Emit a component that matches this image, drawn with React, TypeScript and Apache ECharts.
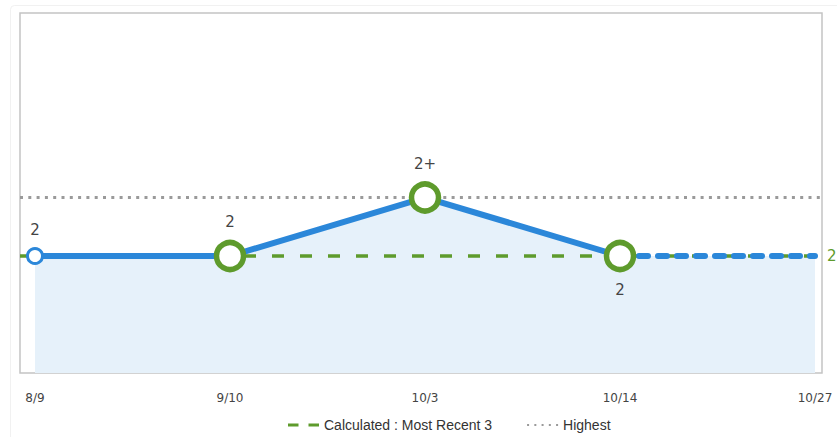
import React, { useEffect, useRef } from "react";
import * as echarts from "echarts";

const categories = ["8/9", "9/10", "10/3", "10/14", "10/27"];
const solidValues = [2, 2, 2.5, 2];
const projectedValues = [2, 2];
const areaValues = [2, 2, 2.5, 2, 2];
const pointLabels = ["2", "2", "2+", "2"];
const calculatedLevel = 2;
const highestLevel = 2.5;
const calculatedLabel = "2";

const BLUE = "#2b87d9";
const GREEN = "#5e9b2c";
const GREY = "#9a9a9a";

const DASH_ICON = "path://M0,0h10.5v3h-10.5z M20.5,0h10.5v3h-10.5z";
const DOT_ICON =
  "path://M0,0h2v2h-2z M7.25,0h2v2h-2z M14.5,0h2v2h-2z M21.75,0h2v2h-2z M29,0h2v2h-2z";

export default function App() {
  const ref = useRef<HTMLDivElement>(null);
  useEffect(() => {
    if (!ref.current) return;
    const chart = echarts.init(ref.current, undefined, { renderer: "svg" });
    const solidData = solidValues.map((v, i) => [i, v]);
    const projData = projectedValues.map((v, i) => [i + solidValues.length - 1, v]);
    const areaData = areaValues.map((v, i) => [i, v]);
    const markerData = solidValues.map((v, i) => {
      const first = i === 0;
      return {
        value: [i, v],
        symbolSize: first ? 15 : 27,
        itemStyle: {
          color: "#ffffff",
          borderColor: first ? BLUE : GREEN,
          borderWidth: first ? 3 : 5.5,
          opacity: 1,
        },
        label: {
          show: true,
          formatter: pointLabels[i],
          position: i === 3 ? "bottom" : "top",
          distance: 10,
        },
      };
    });
    chart.setOption({
      animation: false,
      backgroundColor: "#ffffff",
      graphic: [
        {
          type: "rect",
          z: -10,
          shape: { x: 10.5, y: 5.5, width: 860, height: 460, r: 4 },
          style: { fill: "none", stroke: "#f1f1f1", lineWidth: 1 },
          silent: true,
        },
      ],
      grid: {
        left: 20,
        right: 15,
        top: 13,
        bottom: 64,
        show: true,
        borderColor: "#c4c4c4",
        borderWidth: 1.5,
        backgroundColor: "transparent",
      },
      legend: {
        left: 283,
        top: 413,
        itemWidth: 31,
        itemHeight: 14,
        itemGap: 35,
        textStyle: { fontFamily: "Liberation Sans", fontSize: 14, color: "#333" },
        data: [
          {
            name: "Calculated : Most Recent 3",
            icon: DASH_ICON,
            itemStyle: { color: GREEN },
          },
          { name: "Highest", icon: DOT_ICON, itemStyle: { color: GREY } },
        ],
        selectedMode: false,
      },
      xAxis: {
        type: "value",
        min: -15 / 195,
        max: 4 + 7 / 195,
        axisLine: { show: false },
        axisTick: { show: false },
        splitLine: { show: false },
        axisLabel: {
          customValues: categories.map((_, i) => i),
          formatter: (v: number) => categories[Math.round(v)] ?? "",
          color: "#444",
          fontFamily: "DejaVu Sans",
          fontSize: 12,
          margin: 19,
        },
      },
      yAxis: {
        type: "value",
        min: 1,
        max: 4.077,
        show: false,
        splitLine: { show: false },
      },
      series: [
        {
          name: "area",
          type: "line",
          data: areaData,
          showSymbol: false,
          symbol: "none",
          lineStyle: { width: 0 },
          areaStyle: { color: "#e6f1fa", opacity: 1, origin: "start" },
          z: 1,
          silent: true,
        },
        {
          name: "Highest",
          type: "line",
          data: [],
          symbol: "none",
          lineStyle: { color: GREY, width: 2.5, type: [2.5, 5] },
          itemStyle: { color: GREY },
          z: 2,
          markLine: {
            z: 2,
            silent: true,
            symbol: ["none", "none"],
            label: { show: false },
            lineStyle: { color: GREY, width: 3, type: [3, 5.3] },
            data: [{ yAxis: highestLevel }],
          },
        },
        {
          name: "Calculated : Most Recent 3",
          type: "line",
          data: [],
          symbol: "none",
          lineStyle: { color: GREEN, width: 3, type: [10.5, 9.5] },
          itemStyle: { color: GREEN },
          z: 3,
          markLine: {
            z: 3,
            silent: true,
            symbol: ["none", "none"],
            lineStyle: { color: GREEN, width: 3.5, type: [12, 16] },
            label: {
              show: true,
              position: "end",
              formatter: calculatedLabel,
              color: GREEN,
              fontFamily: "DejaVu Sans",
              fontSize: 15,
              distance: 5,
            },
            data: [{ yAxis: calculatedLevel }],
          },
        },
        {
          name: "solid",
          type: "line",
          data: solidData,
          symbol: "none",
          lineStyle: { color: BLUE, width: 6 },
          z: 6,
          silent: true,
        },
        {
          name: "projected",
          type: "line",
          data: projData,
          symbol: "none",
          lineStyle: { color: BLUE, width: 6, type: [9, 10], cap: "round" },
          z: 6,
          silent: true,
        },
        {
          name: "markers",
          type: "scatter",
          data: markerData,
          z: 8,
          silent: true,
          itemStyle: { opacity: 1 },
          label: {
            color: "#444",
            fontFamily: "DejaVu Sans",
            fontSize: 15,
          },
        },
      ],
    });
    return () => chart.dispose();
  }, []);
  return (
    <div
      ref={ref}
      style={{ position: "fixed", left: 0, top: 0, width: 837, height: 437 }}
    />
  );
}
